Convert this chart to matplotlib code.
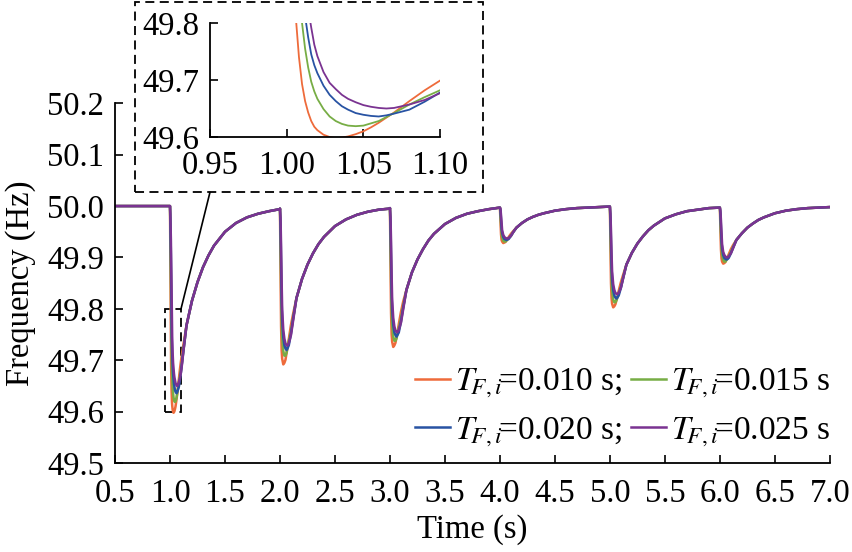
import numpy as np
import matplotlib.pyplot as plt
from matplotlib.patches import Rectangle, ConnectionPatch

plt.rcParams['font.family'] = 'Liberation Serif'
plt.rcParams['mathtext.fontset'] = 'stix'

# disturbance instants (s)
dip_starts = [1.0, 2.0, 3.0, 4.0, 5.0, 6.0]

# time offsets after each disturbance
dt_fine = [0, 0.003, 0.006, 0.008, 0.010, 0.012, 0.014, 0.016, 0.018, 0.020, 0.024, 0.028, 0.032,
           0.036, 0.040, 0.045, 0.050, 0.055, 0.060, 0.065, 0.070, 0.080, 0.090, 0.100, 0.110, 0.120]
dt_coarse = [0, 0.005, 0.01, 0.015, 0.02, 0.03, 0.04, 0.05, 0.06, 0.07, 0.08, 0.10, 0.12]
dt_late = [0.15, 0.2, 0.25, 0.3, 0.35, 0.4, 0.5, 0.6, 0.7, 0.8, 0.9, 0.999]

# frequency (Hz) right after each disturbance, one list per dip
orange_early = [
    [50.000, 49.900, 49.808, 49.740, 49.693, 49.663, 49.643, 49.628, 49.618, 49.612, 49.604, 49.600, 49.598,
     49.599, 49.601, 49.605, 49.610, 49.617, 49.625, 49.634, 49.643, 49.663, 49.682, 49.699, 49.714, 49.728],
    [49.995, 49.877, 49.766, 49.720, 49.703, 49.692, 49.695, 49.701, 49.714, 49.726, 49.741, 49.769, 49.791],
    [49.996, 49.890, 49.792, 49.751, 49.736, 49.726, 49.729, 49.734, 49.745, 49.756, 49.770, 49.794, 49.814],
    [49.997, 49.971, 49.945, 49.934, 49.931, 49.928, 49.929, 49.930, 49.933, 49.936, 49.940, 49.946, 49.951],
    [49.999, 49.921, 49.850, 49.821, 49.810, 49.803, 49.805, 49.809, 49.817, 49.825, 49.835, 49.852, 49.866],
    [49.997, 49.955, 49.915, 49.898, 49.892, 49.888, 49.889, 49.891, 49.896, 49.900, 49.906, 49.916, 49.924],
]
green_early = [
    [50.000, 49.960, 49.905, 49.860, 49.800, 49.755, 49.722, 49.697, 49.680, 49.667, 49.649, 49.636, 49.628,
     49.623, 49.620, 49.619, 49.620, 49.624, 49.628, 49.635, 49.642, 49.657, 49.670, 49.682, 49.698, 49.716],
    [49.995, 49.942, 49.848, 49.778, 49.746, 49.718, 49.709, 49.709, 49.715, 49.726, 49.737, 49.756, 49.782],
    [49.996, 49.947, 49.863, 49.800, 49.771, 49.746, 49.738, 49.738, 49.743, 49.753, 49.763, 49.780, 49.804],
    [49.997, 49.986, 49.964, 49.948, 49.940, 49.933, 49.931, 49.931, 49.933, 49.935, 49.938, 49.942, 49.949],
    [49.999, 49.962, 49.902, 49.857, 49.836, 49.818, 49.813, 49.813, 49.817, 49.823, 49.831, 49.843, 49.860],
    [49.997, 49.978, 49.944, 49.918, 49.906, 49.896, 49.892, 49.892, 49.895, 49.898, 49.903, 49.910, 49.920],
]
blue_early = [
    [50.000, 49.975, 49.940, 49.905, 49.860, 49.812, 49.775, 49.745, 49.726, 49.712, 49.690, 49.674, 49.663,
     49.654, 49.648, 49.642, 49.639, 49.637, 49.636, 49.638, 49.641, 49.648, 49.662, 49.678, 49.697, 49.716],
    [49.995, 49.961, 49.892, 49.815, 49.779, 49.745, 49.729, 49.723, 49.720, 49.724, 49.729, 49.752, 49.782],
    [49.996, 49.964, 49.902, 49.832, 49.799, 49.769, 49.754, 49.749, 49.746, 49.750, 49.754, 49.775, 49.802],
    [49.997, 49.991, 49.975, 49.956, 49.948, 49.940, 49.936, 49.935, 49.934, 49.935, 49.936, 49.942, 49.949],
    [49.999, 49.975, 49.931, 49.881, 49.858, 49.836, 49.826, 49.822, 49.820, 49.823, 49.826, 49.841, 49.860],
    [49.997, 49.985, 49.960, 49.931, 49.918, 49.905, 49.899, 49.897, 49.896, 49.897, 49.899, 49.908, 49.919],
]
purple_early = [
    [50.000, 49.985, 49.960, 49.935, 49.900, 49.862, 49.825, 49.792, 49.762, 49.742, 49.714, 49.695, 49.684,
     49.674, 49.667, 49.661, 49.656, 49.653, 49.651, 49.650, 49.651, 49.657, 49.665, 49.677, 49.694, 49.714],
    [49.995, 49.977, 49.922, 49.853, 49.799, 49.759, 49.742, 49.733, 49.729, 49.729, 49.733, 49.749, 49.778],
    [49.996, 49.979, 49.930, 49.867, 49.818, 49.782, 49.766, 49.758, 49.755, 49.755, 49.759, 49.773, 49.799],
    [49.997, 49.995, 49.982, 49.966, 49.953, 49.944, 49.940, 49.938, 49.937, 49.937, 49.938, 49.942, 49.949],
    [49.999, 49.985, 49.951, 49.907, 49.873, 49.848, 49.837, 49.831, 49.829, 49.829, 49.831, 49.841, 49.859],
    [49.997, 49.991, 49.971, 49.946, 49.926, 49.911, 49.905, 49.902, 49.900, 49.900, 49.902, 49.908, 49.918],
]
# recovery part, where the four curves lie on top of each other
recovery = [
    [49.768, 49.816, 49.852, 49.881, 49.904, 49.923, 49.950, 49.967, 49.978, 49.985, 49.990, 49.994],
    [49.821, 49.858, 49.886, 49.908, 49.926, 49.940, 49.961, 49.974, 49.983, 49.989, 49.993, 49.995],
    [49.837, 49.871, 49.896, 49.916, 49.933, 49.946, 49.965, 49.977, 49.985, 49.990, 49.994, 49.997],
    [49.958, 49.967, 49.974, 49.979, 49.983, 49.986, 49.991, 49.994, 49.996, 49.997, 49.998, 49.999],
    [49.886, 49.909, 49.927, 49.941, 49.953, 49.962, 49.976, 49.984, 49.990, 49.993, 49.996, 49.997],
    [49.934, 49.947, 49.958, 49.966, 49.973, 49.978, 49.986, 49.991, 49.994, 49.996, 49.997, 49.998],
]

labels = [r'$T_{\!F,i}\!$=0.010 s;', r'$T_{\!F,i}\!$=0.015 s',
          r'$T_{\!F,i}\!$=0.020 s;', r'$T_{\!F,i}\!$=0.025 s']
colors = ['#EE6B3B', '#77AD45', '#2853A3', '#7A3391']


def build(early):
    t, v = [0.5], [50.0]
    for k, t0 in enumerate(dip_starts):
        dts = dt_fine if k == 0 else dt_coarse
        t += [t0 + d for d in dts] + [t0 + d for d in dt_late]
        v += early[k] + recovery[k]
    return np.array(t), np.array(v)


series = [build(e) for e in (orange_early, green_early, blue_early, purple_early)]

fig = plt.figure(figsize=(8.52, 5.52), dpi=100)
ax = fig.add_axes([0.135, 0.161, 0.839, 0.652])

handles = []
for (t, v), c, lab in zip(series, colors, labels):
    h, = ax.plot(t, v, color=c, lw=1.8, label=lab)
    handles.append(h)

ax.set_xlim(0.5, 7.0)
ax.set_ylim(49.5, 50.2)
ax.set_xticks(np.arange(0.5, 7.01, 0.5))
ax.set_yticks(np.arange(49.5, 50.21, 0.1))
ax.xaxis.set_major_formatter(plt.FormatStrFormatter('%.1f'))
ax.yaxis.set_major_formatter(plt.FormatStrFormatter('%.1f'))
ax.spines['top'].set_visible(False)
ax.spines['right'].set_visible(False)
for s in ('left', 'bottom'):
    ax.spines[s].set_linewidth(1.3)
ax.tick_params(direction='in', length=6, width=1.2, labelsize=23.5)
ax.tick_params(axis='x', pad=11)
ax.tick_params(axis='y', pad=8)
ax.set_xlabel('Time (s)', fontsize=23.5, labelpad=4)
ax.set_ylabel('Frequency (Hz)', fontsize=23.5, labelpad=8)

# legend: two rows, two columns
order = [handles[0], handles[2], handles[1], handles[3]]
ax.legend(order, [h.get_label() for h in order], ncol=2, loc='lower right',
          bbox_to_anchor=(1.0, 0.04), borderpad=0, borderaxespad=0, frameon=False, fontsize=24,
          handlelength=1.05, handletextpad=0.15, columnspacing=0.25, labelspacing=0.45)

# zoom box on the main plot
ax.add_patch(Rectangle((0.95, 49.6), 0.15, 0.2, fill=False, ls=(0, (5, 3)), lw=1.3, color='black'))

# inset
ins = fig.add_axes([0.2465, 0.7518, 0.270, 0.2065])
for (t, v), c in zip(series, colors):
    ins.plot(t, v, color=c, lw=1.3)
ins.set_xlim(0.95, 1.10)
ins.set_ylim(49.6, 49.8)
ins.set_xticks([0.95, 1.00, 1.05, 1.10])
ins.set_yticks([49.6, 49.7, 49.8])
ins.xaxis.set_major_formatter(plt.FormatStrFormatter('%.2f'))
ins.yaxis.set_major_formatter(plt.FormatStrFormatter('%.1f'))
ins.spines['top'].set_visible(False)
ins.spines['right'].set_visible(False)
for s in ('left', 'bottom'):
    ins.spines[s].set_linewidth(1.3)
ins.tick_params(direction='in', length=6, width=1.2, labelsize=23.5)
ins.tick_params(axis='x', pad=10)
ins.tick_params(axis='y', pad=8)

# dashed frame around the inset
fig.patches.append(Rectangle((0.1585, 0.652), 0.4085, 0.345, transform=fig.transFigure,
                             fill=False, ls=(0, (5, 3)), lw=1.3, color='black'))
con = ConnectionPatch(xyA=(1.10, 49.8), coordsA=ax.transData,
                      xyB=(0.2465, 0.652), coordsB=fig.transFigure, color='black', lw=1.2)
fig.add_artist(con)

fig.savefig('out.png', dpi=100)
